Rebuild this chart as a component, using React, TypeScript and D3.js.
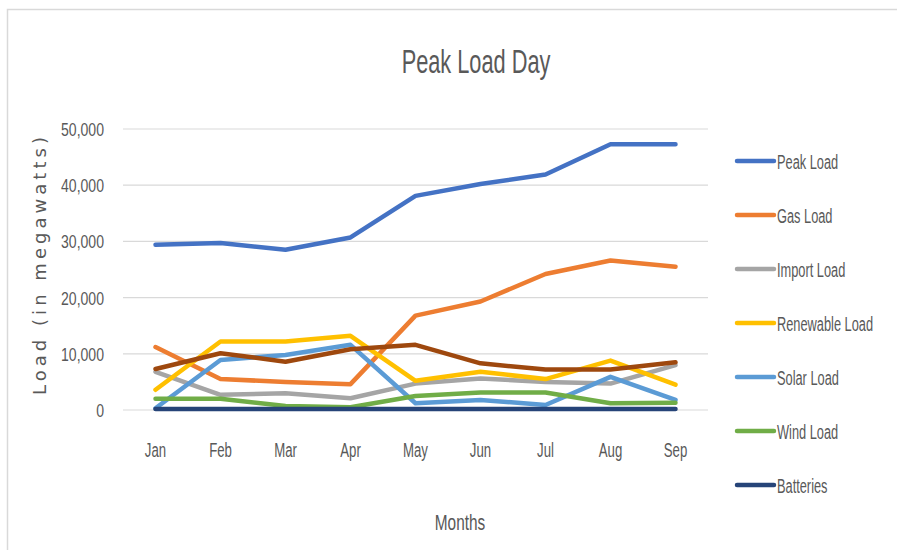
import React from "react";
import * as d3 from "d3";

const months = ["Jan", "Feb", "Mar", "Apr", "May", "Jun", "Jul", "Aug", "Sep"];
const yTicks = [0, 10000, 20000, 30000, 40000, 50000];

const peakLoad = [29400, 29700, 28500, 30700, 38100, 40200, 41900, 47300, 47300];
const gasLoad = [11200, 5500, 5000, 4600, 16800, 19300, 24200, 26600, 25500];
const importLoad = [6800, 2700, 3000, 2100, 4700, 5600, 5000, 4700, 8000];
const renewableLoad = [3600, 12200, 12200, 13200, 5200, 6800, 5500, 8800, 4500];
const solarLoad = [300, 8900, 9800, 11600, 1200, 1800, 900, 5900, 1800];
const windLoad = [2000, 2000, 700, 500, 2500, 3100, 3100, 1200, 1300];
const batteries = [200, 200, 200, 200, 200, 200, 200, 200, 200];
// 8th series, its legend entry is cut off in the original
const otherLoad = [7300, 10100, 8600, 10800, 11600, 8300, 7200, 7200, 8500];

const series = [
  { name: "Peak Load", values: peakLoad, color: "#4472C4", legend: true },
  { name: "Gas Load", values: gasLoad, color: "#ED7D31", legend: true },
  { name: "Import Load", values: importLoad, color: "#A5A5A5", legend: true },
  { name: "Renewable Load", values: renewableLoad, color: "#FFC000", legend: true },
  { name: "Solar Load", values: solarLoad, color: "#5B9BD5", legend: true },
  { name: "Wind Load", values: windLoad, color: "#70AD47", legend: true },
  { name: "Batteries", values: batteries, color: "#264478", legend: true },
  { name: "Other Load", values: otherLoad, color: "#9E480E", legend: false },
];

const narrow = "'Liberation Sans Narrow', 'Liberation Sans', Arial, sans-serif";
const textColor = "#595959";

export default function App() {
  const width = 897;
  const height = 550;

  const x = d3.scaleBand().domain(months).range([123, 708]);
  const y = d3.scaleLinear().domain([0, 50000]).range([410, 129]);
  const cx = (m: string) => (x(m) as number) + x.bandwidth() / 2;

  const line = d3
    .line<number>()
    .x((_, i) => cx(months[i]))
    .y((d) => y(d));

  const fmt = d3.format(",");
  const legendItems = series.filter((s) => s.legend);

  return (
    <svg
      width={width}
      height={height}
      style={{ position: "absolute", left: 0, top: 0, background: "#fff" }}
    >
      <rect x={7.5} y={9.5} width={896} height={600} fill="#fff" stroke="#D9D9D9" strokeWidth={1.5} />

      {/* title */}
      <text
        transform={`translate(476,73) scale(0.64,1)`}
        textAnchor="middle"
        fontFamily={narrow}
        fontSize={34}
        fill={textColor}
      >
        Peak Load Day
      </text>

      {/* grid + y ticks */}
      {yTicks.map((t) => (
        <g key={t}>
          <line x1={123} x2={708} y1={y(t)} y2={y(t)} stroke="#D9D9D9" strokeWidth={1.2} />
          <text
            transform={`translate(104,${y(t) + 7}) scale(0.74,1)`}
            textAnchor="end"
            fontFamily={narrow}
            fontSize={19}
            fill={textColor}
          >
            {fmt(t)}
          </text>
        </g>
      ))}

      {/* x labels */}
      {months.map((m) => (
        <text
          key={m}
          transform={`translate(${cx(m)},457) scale(0.66,1)`}
          textAnchor="middle"
          fontFamily={narrow}
          fontSize={20}
          fill={textColor}
        >
          {m}
        </text>
      ))}

      {/* axis titles */}
      <text
        transform={`translate(460,530) scale(0.7,1)`}
        textAnchor="middle"
        fontFamily={narrow}
        fontSize={22}
        fill={textColor}
      >
        Months
      </text>
      <text
        transform={`translate(46,266) rotate(-90)`}
        textAnchor="middle"
        fontFamily="'DejaVu Sans', Verdana, sans-serif"
        fontSize={18}
        fill={textColor}
        textLength={258}
        lengthAdjust="spacing"
      >
        Load (in megawatts)
      </text>

      {/* lines */}
      {series.map((s) => (
        <path
          key={s.name}
          d={line(s.values) as string}
          fill="none"
          stroke={s.color}
          strokeWidth={4.5}
          strokeLinejoin="round"
          strokeLinecap="round"
        />
      ))}

      {/* legend */}
      {legendItems.map((s, i) => {
        const ly = 161 + i * 54;
        return (
          <g key={s.name}>
            <line x1={737} x2={774} y1={ly} y2={ly} stroke={s.color} strokeWidth={4.5} strokeLinecap="round" />
            <text
              transform={`translate(777,${ly + 7.5}) scale(0.64,1)`}
              fontFamily={narrow}
              fontSize={20}
              fill={textColor}
            >
              {s.name}
            </text>
          </g>
        );
      })}
    </svg>
  );
}
